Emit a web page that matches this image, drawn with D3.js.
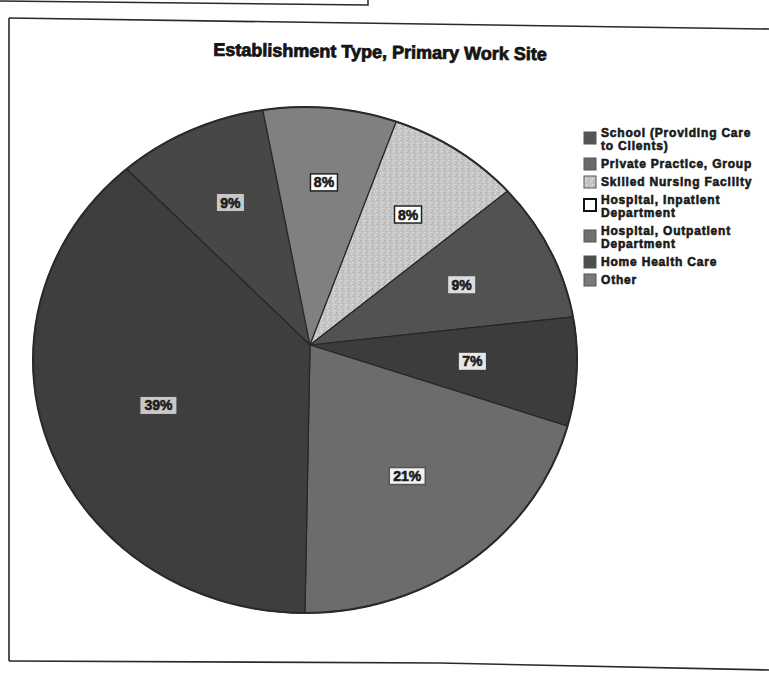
<!DOCTYPE html>
<html>
<head>
<meta charset="utf-8">
<script src="https://cdn.jsdelivr.net/npm/d3@7/dist/d3.min.js"></script>
<style>
  html, body { margin: 0; padding: 0; background: #fff; }
  svg { display: block; }
  text { font-family: "Liberation Sans", Arial, sans-serif; }
</style>
</head>
<body>
<script>
// Establishment type of the primary work site, share of respondents (%)
const categories = [
  "School (Providing Care to Clients)",
  "Private Practice, Group",
  "Skilled Nursing Facility",
  "Hospital, Inpatient Department",
  "Hospital, Outpatient Department",
  "Home Health Care",
  "Other"
];
const legendLines = [
  ["School (Providing Care", "to Clients)"],
  ["Private Practice, Group"],
  ["Skilled Nursing Facility"],
  ["Hospital, Inpatient", "Department"],
  ["Hospital, Outpatient", "Department"],
  ["Home Health Care"],
  ["Other"]
];
const values = [9, 8, 8, 9, 7, 21, 39];
const valueLabels = ["9%", "8%", "8%", "9%", "7%", "21%", "39%"];
const sliceColors = ["#474747", "#808080", "url(#speckle)", "#525252", "#3c3c3c", "#6c6c6c", "#3e3e3e"];
const swatchColors = ["#555555", "#6a6a6a", "url(#speckle)", "#ffffff", "#707070", "#4e4e4e", "#7a7a7a"];
const labelBoxFill = ["#c8c8c8", "#ffffff", "#ffffff", "#dddddd", "#e6e6e6", "#f2f2f2", "#c8c8c8"];
const labelBoxStroke = ["none", "#222", "#222", "none", "none", "#555", "none"];
const titleText = "Establishment Type, Primary Work Site";

const W = 769, H = 679;
const svg = d3.select("body").append("svg").attr("width", W).attr("height", H);

// texture for the nursing-facility slice
const defs = svg.append("defs");
const pat = defs.append("pattern").attr("id", "speckle")
  .attr("patternUnits", "userSpaceOnUse").attr("width", 6).attr("height", 6);
pat.append("rect").attr("width", 6).attr("height", 6).attr("fill", "#c6c6c6");
[[0,0,"#a9a9a9"],[3,1,"#dedede"],[1,3,"#b4b4b4"],[4,4,"#e2e2e2"],[5,2,"#b0b0b0"],[2,5,"#d8d8d8"]]
  .forEach(([x, y, c]) => pat.append("rect").attr("x", x).attr("y", y).attr("width", 1.2).attr("height", 1.2).attr("fill", c));

// page frame
const frame = svg.append("g").attr("fill", "none").attr("stroke", "#2a2a2a");
frame.append("path").attr("d", "M0,1 L368,5 L368,0").attr("stroke-width", 1.5);
frame.append("path").attr("d", "M9,18 L769,29").attr("stroke-width", 1.6);
frame.append("path").attr("d", "M9,18 L9,661").attr("stroke-width", 1.6);
frame.append("path").attr("d", "M9,661 L440,663 L769,670").attr("stroke-width", 1.6);

// title
svg.append("text")
  .attr("x", 380).attr("y", 58)
  .attr("text-anchor", "middle")
  .attr("transform", "rotate(0.8 380 58)")
  .attr("font-size", 18).attr("font-weight", "bold")
  .attr("fill", "#151515").attr("stroke", "#151515").attr("stroke-width", 0.8)
  .text(titleText);

// pie: rim is an ellipse, slices meet at the apex point
const ecx = 305, ecy = 360, rx = 272, ry = 253;
const apex = [310, 345];
const total = d3.sum(values);
// slices run clockwise from the first category; the last slice begins at six o'clock
const a0 = Math.PI - 2 * Math.PI * d3.sum(values.slice(0, 6)) / total;
const pie = d3.pie().sort(null).startAngle(a0).endAngle(a0 + 2 * Math.PI);
const arcs = pie(values);
const rim = a => [ecx + rx * Math.sin(a), ecy - ry * Math.cos(a)];
const slicePath = d => {
  const [x0, y0] = rim(d.startAngle), [x1, y1] = rim(d.endAngle);
  const large = d.endAngle - d.startAngle > Math.PI ? 1 : 0;
  return `M${apex[0]},${apex[1]}L${x0},${y0}A${rx},${ry} 0 ${large} 1 ${x1},${y1}Z`;
};

const pg = svg.append("g");
pg.selectAll("path.slice").data(arcs).join("path")
  .attr("class", "slice")
  .attr("d", slicePath)
  .attr("fill", (d, i) => sliceColors[i])
  .attr("stroke", "#262626").attr("stroke-width", 1.2);
pg.append("ellipse").attr("cx", ecx).attr("cy", ecy).attr("rx", rx).attr("ry", ry)
  .attr("fill", "none").attr("stroke", "#2a2a2a").attr("stroke-width", 2);

// value labels with boxes, a fixed distance out from the apex
const labelR = 0.6 * rx;
const lg = svg.append("g");
arcs.forEach((d, i) => {
  const [mx, my] = rim((d.startAngle + d.endAngle) / 2);
  const len = Math.hypot(mx - apex[0], my - apex[1]);
  const x = apex[0] + labelR * (mx - apex[0]) / len, y = apex[1] + labelR * (my - apex[1]) / len;
  const txt = valueLabels[i];
  const bw = txt.length > 2 ? 36 : 27, bh = 17;
  lg.append("rect").attr("x", x - bw / 2).attr("y", y - bh / 2).attr("width", bw).attr("height", bh)
    .attr("fill", labelBoxFill[i]).attr("stroke", labelBoxStroke[i]).attr("stroke-width", 1.5);
  lg.append("text").attr("x", x).attr("y", y + 5).attr("text-anchor", "middle")
    .attr("font-size", 14).attr("font-weight", "bold")
    .attr("fill", "#1c1c1c").attr("stroke", "#1c1c1c").attr("stroke-width", 0.6)
    .text(txt);
});

// legend
const leg = svg.append("g");
const lineH = 13, gap = 5;
let yb = 137;
legendLines.forEach((lines, i) => {
  const sc = yb - 4 + (lines.length - 1) * 5;
  leg.append("rect").attr("x", 584).attr("y", sc - 6).attr("width", 12).attr("height", 12)
    .attr("fill", swatchColors[i])
    .attr("stroke", i === 3 ? "#111" : "#555").attr("stroke-width", i === 3 ? 2 : 1);
  lines.forEach((ln, j) => {
    leg.append("text").attr("x", 601).attr("y", yb + j * lineH)
      .attr("font-size", 12).attr("font-weight", "bold").attr("letter-spacing", 0.8)
      .attr("fill", "#1a1a1a").attr("stroke", "#1a1a1a").attr("stroke-width", 0.6)
      .text(ln);
  });
  yb += lines.length * lineH + gap;
});
</script>
</body>
</html>
